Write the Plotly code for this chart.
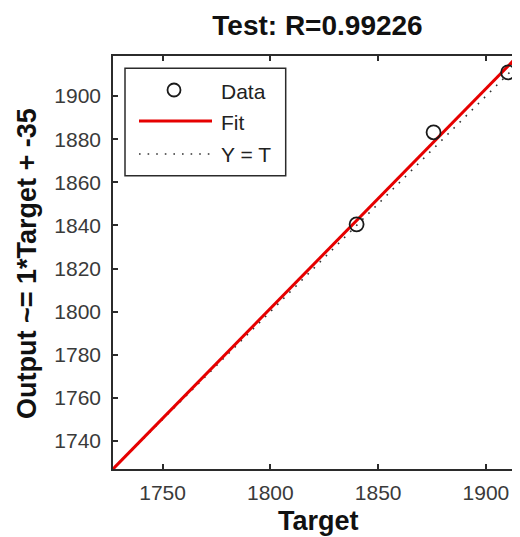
import plotly.graph_objects as go

# ---- data ----
target = [1840.0, 1875.7, 1910.3]
output = [1840.5, 1883.2, 1911.0]
fit_x = [1727.0, 1915.8]
fit_y = [1727.0, 1919.6]
yt_x = [1727.0, 1918.6]
yt_y = [1727.0, 1918.6]
x_ticks = [1750, 1800, 1850, 1900]
y_ticks = [1740, 1760, 1780, 1800, 1820, 1840, 1860, 1880, 1900]
x_range = [1727.0, 1915.8]
y_range = [1727.0, 1918.6]
title_text = "Test: R=0.99226"
x_title = "Target"
y_title = "Output ~= 1*Target + -35"
legend_labels = ["Data", "Fit", "Y = T"]

# page body has an 8px margin: work in page pixels, convert to figure pixels
OFF = 8
W, H = 520 - OFF, 537 - OFF
L, R, T, B = 113 - OFF, 520 - OFF, 56 - OFF, 469 - OFF
FONT = "Liberation Sans, Arial, sans-serif"
AX = "#2b2b2b"


def px(x):
    return (x - OFF - L) / (R - L)


def py(y):
    return (B - (y - OFF)) / (B - T)


fig = go.Figure()
fig.add_trace(go.Scatter(x=yt_x, y=yt_y, mode="lines", showlegend=False,
                         line=dict(color="#333333", width=1.6, dash="1.6px,7px")))
fig.add_trace(go.Scatter(x=fit_x, y=fit_y, mode="lines", showlegend=False,
                         line=dict(color="#e60000", width=3)))
fig.add_trace(go.Scatter(x=target, y=output, mode="markers", showlegend=False,
                         cliponaxis=False,
                         marker=dict(symbol="circle-open", size=14, color="#1a1a1a",
                                     line=dict(width=1.8, color="#1a1a1a"))))

shapes = []
annotations = []
# legend box
shapes.append(dict(type="rect", xref="paper", yref="paper",
                   x0=px(125), x1=px(285.7), y0=py(175.7), y1=py(68.3),
                   line=dict(color=AX, width=1.5), fillcolor="white", layer="above"))
# legend: data marker
shapes.append(dict(type="circle", xref="paper", yref="paper",
                   x0=px(174 - 6.5), x1=px(174 + 6.5), y0=py(90 + 6.5), y1=py(90 - 6.5),
                   line=dict(color="#1a1a1a", width=1.8), layer="above"))
# legend: fit line
shapes.append(dict(type="line", xref="paper", yref="paper",
                   x0=px(139), x1=px(212), y0=py(121), y1=py(121),
                   line=dict(color="#e60000", width=3), layer="above"))
# legend: Y=T dotted
shapes.append(dict(type="line", xref="paper", yref="paper",
                   x0=px(139), x1=px(212), y0=py(154), y1=py(154),
                   line=dict(color="#333333", width=1.6, dash="1.6px,7px"), layer="above"))
for lab, yy in zip(legend_labels, [91, 122, 154]):
    annotations.append(dict(text=lab, xref="paper", yref="paper", x=px(219), y=py(yy),
                            xanchor="left", yanchor="middle", showarrow=False,
                            font=dict(family=FONT, size=21, color="#222222")))

# axis titles
annotations.append(dict(text="<b>" + x_title + "</b>", xref="paper", yref="paper",
                        x=px(318), y=py(521), xanchor="center", yanchor="middle",
                        showarrow=False, font=dict(family=FONT, size=27, color="#111111")))
annotations.append(dict(text="<b>" + y_title + "</b>", xref="paper", yref="paper",
                        x=px(27), y=py(264), xanchor="center", yanchor="middle",
                        textangle=-90, showarrow=False,
                        font=dict(family=FONT, size=27, color="#111111")))

fig.update_layout(
    width=W, height=H,
    margin=dict(l=L, r=W - R, t=T, b=H - B, pad=0),
    paper_bgcolor="white", plot_bgcolor="white",
    title=dict(text="<b>" + title_text + "</b>", xref="container", yref="container",
               x=(317.5 - OFF) / W, y=1 - (25 - OFF) / H, xanchor="center", yanchor="middle",
               font=dict(family=FONT, size=28, color="#111111")),
    shapes=shapes, annotations=annotations, showlegend=False,
    xaxis=dict(range=x_range, tickvals=x_ticks, ticktext=[str(v) for v in x_ticks],
               showgrid=False, zeroline=False, showline=True, linecolor=AX, linewidth=1.5,
               mirror="ticks", ticks="inside", ticklen=5, tickwidth=1.5, tickcolor=AX,
               tickfont=dict(family=FONT, size=21, color="#3a3a3a"), ticklabelstandoff=4),
    yaxis=dict(range=y_range, tickvals=y_ticks, ticktext=[str(v) for v in y_ticks],
               showgrid=False, zeroline=False, showline=True, linecolor=AX, linewidth=1.5,
               mirror=False, ticks="inside", ticklen=5, tickwidth=1.5, tickcolor=AX,
               tickfont=dict(family=FONT, size=21, color="#3a3a3a"), ticklabelstandoff=6),
)

fig.write_html("out.html")
